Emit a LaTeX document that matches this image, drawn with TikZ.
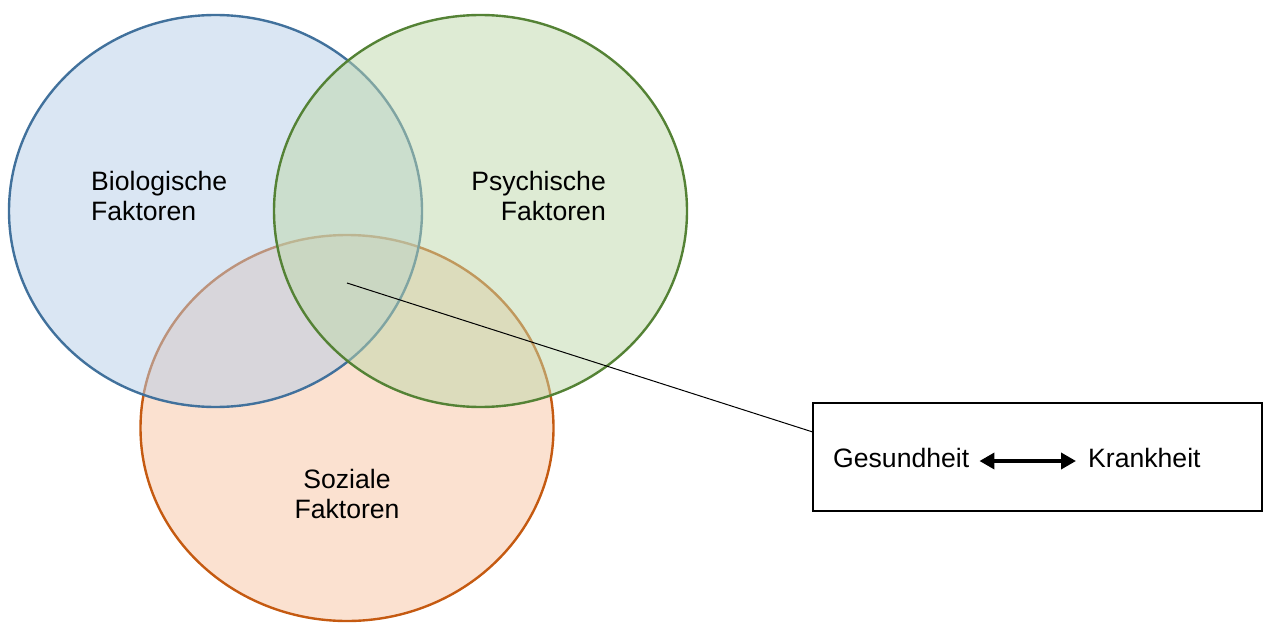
\documentclass[tikz,border=0pt]{standalone}
\usepackage{fontspec}
\setmainfont{Liberation Sans}
\usetikzlibrary{shapes.geometric,arrows.meta,calc}
\definecolor{bluefill}{RGB}{181,205,231}
\definecolor{blueline}{RGB}{65,113,156}
\definecolor{greenfill}{RGB}{189,215,169}
\definecolor{greenline}{RGB}{84,130,53}
\definecolor{orangefill}{RGB}{247,195,161}
\definecolor{orangeline}{RGB}{197,90,17}
\tikzset{
  setcirc/.style={ellipse, inner sep=0pt, line width=2.4pt, fill opacity=0.5, draw opacity=1,
    minimum width=413pt, minimum height=392pt},
  lbl/.style={inner sep=0pt, font=\fontsize{26.6}{30}\selectfont},
  infobox/.style={draw=black, line width=1.3pt, inner sep=0pt, minimum width=449pt, minimum height=108pt},
  dblarrow/.style={line width=3.6pt, {Triangle[length=15pt,width=16pt]}-{Triangle[length=15pt,width=16pt]}}
}
\begin{document}
\begin{tikzpicture}[x=1pt,y=-1pt]
\useasboundingbox (0,0) rectangle (1263,623);
% sets
\node[setcirc, draw=orangeline, fill=orangefill, minimum height=386pt] (soz) at (347,428) {};
\node[setcirc, draw=blueline, fill=bluefill] (bio) at (215.5,211) {};
\node[setcirc, draw=greenline, fill=greenfill] (psy) at (480.5,211) {};
% labels
\node[lbl, anchor=base west] (tbio1) at (91,190) {Biologische};
\node[lbl, anchor=base west] (tbio2) at (91,220) {Faktoren};
\node[lbl, anchor=base east] (tpsy1) at (606,190) {Psychische};
\node[lbl, anchor=base east] (tpsy2) at (606,220) {Faktoren};
\node[lbl, anchor=base] (tsoz1) at (347,488) {Soziale};
\node[lbl, anchor=base] (tsoz2) at (347,518) {Faktoren};
% box
\node[infobox] (box) at (1037.5,457) {};
\coordinate (center) at (347,283);
\coordinate (boxin) at ($(box.north west)!0.27!(box.south west)$);
\draw[line width=1pt] (center) -- (boxin);
\node[lbl, anchor=base west] (ges) at (833,467) {Gesundheit};
\node[lbl, anchor=base west] (kra) at (1088,467) {Krankheit};
\draw[dblarrow, shorten <=10pt, shorten >=12pt] ([yshift=6pt]ges.base east) -- ([yshift=6pt]kra.base west);
\end{tikzpicture}
\end{document}
